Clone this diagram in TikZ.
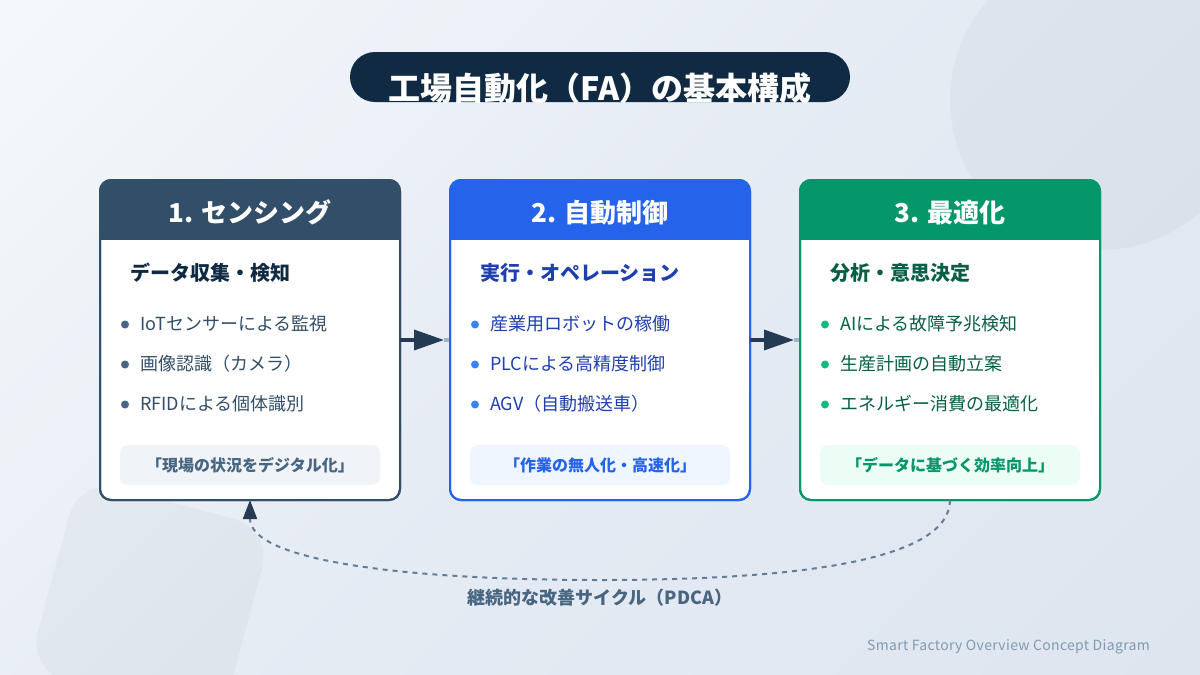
\documentclass[tikz,border=0pt]{standalone}
\usepackage{fontspec}
\setmainfont{Noto Sans CJK JP}
\usetikzlibrary{arrows.meta}
\definecolor{navy}{HTML}{102A43}
\definecolor{slateA}{HTML}{334E68}
\definecolor{slateB}{HTML}{486581}
\definecolor{blueA}{HTML}{2563EB}
\definecolor{blueB}{HTML}{3B82F6}
\definecolor{blueC}{HTML}{1E40AF}
\definecolor{greenA}{HTML}{059669}
\definecolor{greenB}{HTML}{10B981}
\definecolor{greenC}{HTML}{065F46}
\definecolor{bgA}{HTML}{F5F8FB}
\definecolor{bgM}{HTML}{E6ECF4}
\definecolor{bgB}{HTML}{DDE5EF}
\definecolor{noteA}{HTML}{F0F4F8}
\definecolor{noteB}{HTML}{EFF6FF}
\definecolor{noteC}{HTML}{ECFDF5}
\definecolor{arrowc}{HTML}{243B53}
\definecolor{stubc}{HTML}{A4B5C8}
\definecolor{dashc}{HTML}{627D98}
\definecolor{footc}{HTML}{829AB1}
\tikzset{
 x=1pt,y=-1pt,
 decoshape/.style={fill=slateA,fill opacity=.045},
 cardbox/.style={draw=#1,fill=white,line width=2pt,rounded corners=11pt,minimum width=300pt,minimum height=320pt,inner sep=0pt,outer sep=0pt},
 headtext/.style={font=\fontsize{26}{30}\selectfont\bfseries,text=white,anchor=base,inner sep=0pt},
 subhead/.style={font=\fontsize{20}{24}\selectfont\bfseries,anchor=base west,inner sep=0pt},
 itemtext/.style={font=\fontsize{18}{22}\selectfont,anchor=base west,inner sep=0pt},
 bulletdot/.style={circle,inner sep=0pt,minimum size=8pt,fill=#1},
 notebox/.style={fill=#1,rounded corners=8pt,minimum width=260pt,minimum height=40pt,inner sep=0pt},
 notetext/.style={font=\fontsize{16}{20}\selectfont\bfseries,anchor=base,inner sep=0pt},
 stubline/.style={draw=stubc,line width=3.6pt},
 flowarrow/.style={draw=arrowc,line width=3.6pt,-{Triangle[length=30pt,width=20pt,fill=arrowc]}},
 loopline/.style={draw=dashc,line width=2pt,dash pattern=on 5pt off 5pt,-{Triangle[length=19pt,width=14pt,fill=arrowc,color=arrowc]}}
}
\pgfdeclareverticalshading{bggrad}{100bp}{color(0bp)=(bgB);color(25bp)=(bgB);color(52bp)=(bgM);color(75bp)=(bgA);color(100bp)=(bgA)}
% name, centre x, colour, head, sub, sub colour, note bg, note colour, note text
\newcommand{\cardA}[9]{%
 \node[cardbox=#3] (#1) at (#2,340) {};
 \begin{scope}
  \clip[rounded corners=11pt] (#2-150,180) rectangle (#2+150,500);
  \fill[#3] (#2-152,178) rectangle (#2+152,240);
 \end{scope}
 \node[cardbox=#3,fill=none] (#1frame) at (#2,340) {};
 \node[headtext] (#1head) at (#2,222) {#4};
 \node[subhead,text=#6] (#1sub) at (#2-120,280.5) {#5};
 \node[notebox=#7] (#1note) at (#2,465) {};
 \node[notetext,text=#8] (#1notetext) at (#2,471) {#9};
}
% name, left x, row y, dot colour, text colour, text
\newcommand{\itemA}[6]{%
 \node[bulletdot=#4] (#1dot) at (#2+25,#3+1.5) {};
 \node[itemtext,text=#5] (#1) at (#2+40,#3+7) {#6};
}
\begin{document}
\begin{tikzpicture}
\useasboundingbox (0,0) rectangle (1200,675);
\begin{scope}
 \clip (0,0) rectangle (1200,675);
 \shade[shading=bggrad,shading angle=45] (-63,-325.5) rectangle (1263,1000.5);
 \fill[decoshape] (1100,100) circle[radius=150];
 \fill[decoshape,rounded corners=40pt,rotate around={-15:(150,600)}] (50,500) rectangle (250,700);
\end{scope}
% title
\fill[navy,rounded corners=25pt] (350,52) rectangle (850,102);
\begin{scope}
 \clip[rounded corners=25pt] (350,52) rectangle (850,102);
 \node[font=\fontsize{32}{38}\selectfont\bfseries,text=white,anchor=base,inner sep=0pt] (title) at (600,100) {工場自動化（FA）の基本構成};
\end{scope}
% cards
\cardA{c1}{250}{slateA}{1. センシング}{データ収集・検知}{navy}{noteA}{slateB}{「現場の状況をデジタル化」}
\cardA{c2}{600}{blueA}{2. 自動制御}{実行・オペレーション}{blueC}{noteB}{blueA}{「作業の無人化・高速化」}
\cardA{c3}{950}{greenA}{3. 最適化}{分析・意思決定}{greenC}{noteC}{greenA}{「データに基づく効率向上」}
% items
\itemA{a1}{100}{323}{slateB}{slateA}{IoTセンサーによる監視}
\itemA{a2}{100}{363}{slateB}{slateA}{画像認識（カメラ）}
\itemA{a3}{100}{403}{slateB}{slateA}{RFIDによる個体識別}
\itemA{b1}{450}{323}{blueB}{blueC}{産業用ロボットの稼働}
\itemA{b2}{450}{363}{blueB}{blueC}{PLCによる高精度制御}
\itemA{b3}{450}{403}{blueB}{blueC}{AGV（自動搬送車）}
\itemA{g1}{800}{323}{greenB}{greenC}{AIによる故障予兆検知}
\itemA{g2}{800}{363}{greenB}{greenC}{生産計画の自動立案}
\itemA{g3}{800}{403}{greenB}{greenC}{エネルギー消費の最適化}
% connectors
\coordinate (tipA) at (444,340);
\coordinate (tipB) at (794,340);
\draw[stubline] (tipA) -- ([xshift=-1pt]c2frame.west);
\draw[stubline] (tipB) -- ([xshift=-1pt]c3frame.west);
\draw[flowarrow] (c1frame.east) -- (tipA);
\draw[flowarrow] (c2frame.east) -- (tipB);
\coordinate (loopmid) at (600,580);
\draw[loopline] (c3frame.south) .. controls (950,560) and (800,580) .. (loopmid) .. controls (400,580) and (250,560) .. (c1frame.south);
\node[font=\fontsize{18}{22}\selectfont\bfseries,text=slateB,anchor=base,inner sep=0pt] (looplabel) at (600,604.5) {継続的な改善サイクル（PDCA）};
\node[font=\fontsize{14}{18}\addfontfeature{LetterSpace=2.3}\selectfont,text=footc,anchor=base east,inner sep=0pt] (foot) at (1150,650) {Smart Factory Overview Concept Diagram};
\end{tikzpicture}
\end{document}
